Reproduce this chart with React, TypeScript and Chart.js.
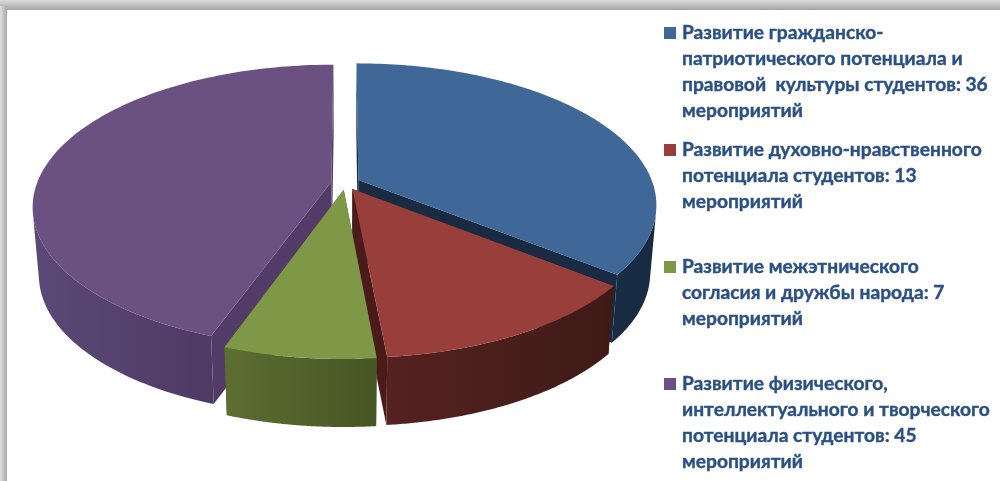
import React, { useEffect, useRef } from "react";
import { Chart, registerables } from "chart.js";

Chart.register(...registerables);

const categories = [
  "Развитие гражданско-патриотического потенциала и правовой культуры студентов",
  "Развитие духовно-нравственного потенциала студентов",
  "Развитие межэтнического согласия и дружбы народа",
  "Развитие физического, интеллектуального и творческого потенциала студентов",
];
const values = [36, 13, 7, 45];
const legendLines = [
  ["Развитие гражданско-", "патриотического потенциала и", "правовой  культуры студентов: 36", "мероприятий"],
  ["Развитие духовно-нравственного", "потенциала студентов: 13", "мероприятий"],
  ["Развитие межэтнического", "согласия и дружбы народа: 7", "мероприятий"],
  ["Развитие физического,", "интеллектуального и творческого", "потенциала студентов: 45", "мероприятий"],
];
const legendFirstLineY = [33, 150, 267, 384];
const topColors = ["#3f6797", "#983f3b", "#7f9848", "#6a5182"];
const wallLight = ["#182c44", "#552220", "#5c6e31", "#5c4876"];
const wallDark = ["#172a40", "#3e1a17", "#465624", "#4e3a63"];
const cutColors = ["#182b42", "#4a1b18", "#465624", "#523c67"];
const textColor = "#2b5084";

const CX = 345.5, CY = 183, A = 295, B = 138, P = 0.172, DEPTH = 68, TAPER = 0.98;

function project(u: number, v: number) {
  const s = 1 / (1 - P * v);
  return { x: CX + A * u * s, y: CY + B * v * s };
}
function lower(p: { x: number; y: number }) {
  return { x: CX + (p.x - CX) * TAPER, y: p.y + DEPTH };
}
function fillPoly(ctx: CanvasRenderingContext2D, pts: { x: number; y: number }[], fill: any) {
  ctx.beginPath();
  pts.forEach((p, i) => (i ? ctx.lineTo(p.x, p.y) : ctx.moveTo(p.x, p.y)));
  ctx.closePath();
  ctx.fillStyle = fill;
  ctx.fill();
}

const pie3d = {
  id: "pie3d",
  beforeDraw(chart: any) {
    const { ctx, width, height } = chart;
    ctx.save();
    ctx.fillStyle = "#ffffff";
    ctx.fillRect(0, 0, width, height);
    const t = ctx.createLinearGradient(0, 0, 0, 10);
    t.addColorStop(0, "#dcdcdc");
    t.addColorStop(1, "#a4a4a4");
    ctx.fillStyle = t;
    ctx.fillRect(0, 0, width, 10);
    const l = ctx.createLinearGradient(0, 0, 7, 0);
    l.addColorStop(0, "#dedede");
    l.addColorStop(1, "#a8a8a8");
    ctx.fillStyle = l;
    ctx.fillRect(0, 6, 7, height - 6);
    ctx.restore();
  },
  beforeDatasetsDraw(chart: any) {
    const arcs = chart.getDatasetMeta(0).data;
    const off = document.createElement("canvas");
    off.width = chart.width;
    off.height = chart.height;
    const ctx = off.getContext("2d") as CanvasRenderingContext2D;
    const slices = arcs.map((arc: any, i: number) => {
      const R = arc.outerRadius + arc.options.offset;
      const mid = (arc.startAngle + arc.endAngle) / 2;
      const d = arc.options.offset / R;
      const ox = Math.cos(mid) * d;
      const oy = Math.sin(mid) * d;
      const outer: { x: number; y: number }[] = [];
      const n = 120;
      for (let k = 0; k <= n; k++) {
        const a = arc.startAngle + ((arc.endAngle - arc.startAngle) * k) / n;
        outer.push(project(ox + (Math.cos(a) * arc.outerRadius) / R * (1 + d), oy + (Math.sin(a) * arc.outerRadius) / R * (1 + d)));
      }
      return { i, mid, apex: project(ox, oy), outer, color: arc.options.backgroundColor };
    });
    slices.sort((p: any, q: any) => Math.sin(p.mid) - Math.sin(q.mid));
    slices.forEach((s: any) => {
      const first = s.outer[0];
      const last = s.outer[s.outer.length - 1];
      fillPoly(ctx, [s.apex, first, lower(first), lower(s.apex)], cutColors[s.i]);
      fillPoly(ctx, [s.apex, last, lower(last), lower(s.apex)], cutColors[s.i]);
      // only the part of the rim that faces the viewer
      const front: { x: number; y: number }[] = [];
      for (let k = 0; k < s.outer.length - 1; k++) {
        const a = s.outer[k];
        const b = s.outer[k + 1];
        const la = lower(a);
        const cross = (b.x - a.x) * (la.y - a.y) - (b.y - a.y) * (la.x - a.x);
        if (cross < 0) {
          if (!front.length) front.push(a);
          front.push(b);
        }
      }
      if (front.length) {
        const xs = front.map((p) => p.x);
        const g = ctx.createLinearGradient(Math.min(...xs), 0, Math.max(...xs), 0);
        g.addColorStop(0, wallLight[s.i]);
        g.addColorStop(1, wallDark[s.i]);
        fillPoly(ctx, [...front, ...front.map(lower).reverse()], g);
      }
      fillPoly(ctx, [s.apex, ...s.outer], s.color);
    });
    chart.ctx.save();
    chart.ctx.filter = "blur(0.6px)";
    chart.ctx.drawImage(off, 0, 0);
    chart.ctx.restore();
    return false;
  },
  afterDraw(chart: any) {
    const { ctx } = chart;
    ctx.save();
    ctx.textBaseline = "middle";
    legendLines.forEach((lines, i) => {
      const y0 = legendFirstLineY[i];
      ctx.filter = "blur(0.7px)";
      ctx.fillStyle = topColors[i];
      ctx.fillRect(664, y0 - 6, 12, 12);
      ctx.fillStyle = textColor;
      ctx.strokeStyle = textColor;
      ctx.lineWidth = 0.4;
      ctx.font = 'bold 19.2px Lato, "Open Sans", sans-serif';
      lines.forEach((line, k) => {
        ctx.fillText(line, 682, y0 + k * 25.8);
        ctx.strokeText(line, 682, y0 + k * 25.8);
      });
    });
    ctx.restore();
  },
};

export default function App() {
  const ref = useRef<HTMLCanvasElement>(null);
  useEffect(() => {
    document.body.style.margin = "0";
    const chart = new Chart(ref.current as HTMLCanvasElement, {
      type: "pie",
      data: {
        labels: categories,
        datasets: [{ data: values, backgroundColor: topColors, borderWidth: 0, offset: 12 }],
      },
      options: {
        animation: false,
        responsive: false,
        plugins: { legend: { display: false }, tooltip: { enabled: false } },
      },
      plugins: [pie3d],
    } as any);
    return () => chart.destroy();
  }, []);
  return <canvas ref={ref} width={1000} height={481} style={{ display: "block" }} />;
}
